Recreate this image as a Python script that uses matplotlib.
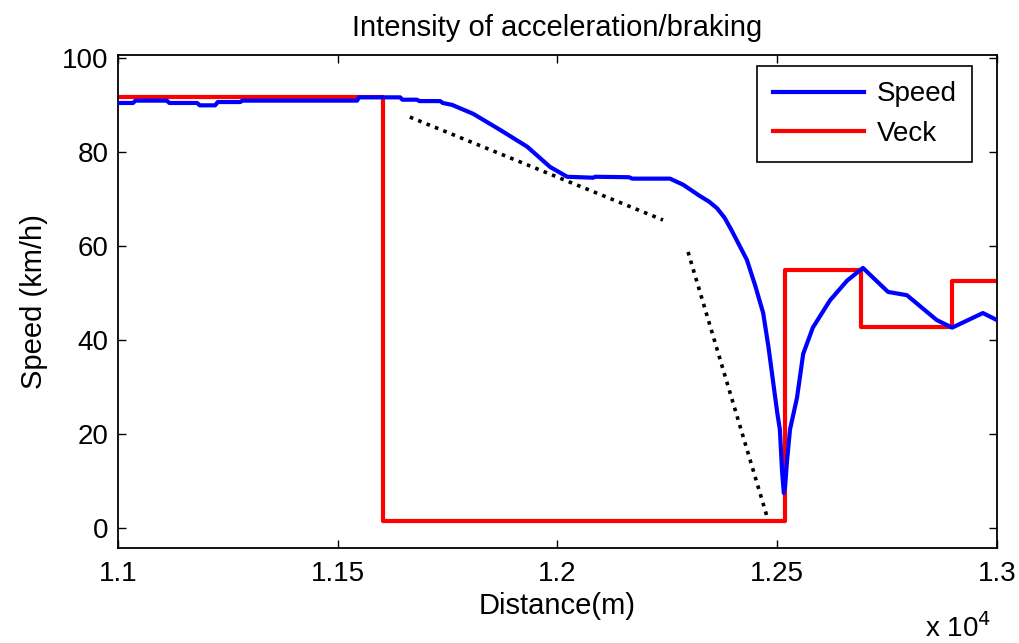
import matplotlib.pyplot as plt
from matplotlib.ticker import FuncFormatter

plt.rcParams['font.family'] = ['Liberation Sans', 'DejaVu Sans']

# measured vehicle speed along the route
dist = [11000, 11034, 11040, 11111, 11117, 11180, 11186, 11221, 11227, 11278, 11283,
        11544, 11548, 11642, 11647, 11680, 11686, 11733, 11739, 11760, 11808, 11869,
        11931, 11983, 12022, 12081, 12086, 12163, 12170, 12256, 12286, 12324, 12345,
        12363, 12380, 12395, 12410, 12431, 12450, 12468, 12480, 12490, 12500, 12506,
        12511, 12515, 12518, 12522, 12529, 12545, 12559, 12581, 12620, 12659, 12695,
        12752, 12795, 12863, 12898, 12968, 13000]
speed = [90.4, 90.4, 90.9, 90.9, 90.4, 90.4, 89.9, 89.9, 90.6, 90.6, 90.9,
         90.9, 91.6, 91.6, 91.1, 91.1, 90.8, 90.8, 90.4, 90.0, 88.1, 84.7,
         81.1, 76.8, 74.7, 74.5, 74.7, 74.6, 74.3, 74.3, 73.0, 70.6, 69.4,
         68.0, 66.0, 63.5, 60.8, 57.0, 51.5, 45.7, 38.5, 31.5, 24.5, 20.9,
         12.0, 7.4, 9.0, 14.0, 20.9, 27.7, 37.0, 42.6, 48.4, 52.6, 55.3,
         50.2, 49.5, 44.2, 42.6, 45.7, 44.2]

# reference speed (steps)
veck_dist = [11000, 11603, 11603, 12518, 12518, 12690, 12690, 12898, 12898, 13000]
veck_speed = [91.6, 91.6, 1.5, 1.5, 54.9, 54.9, 42.8, 42.8, 52.6, 52.6]

# slope guides
guide1_dist = [11664, 12240]
guide1_speed = [87.4, 65.5]
guide2_dist = [12297, 12477]
guide2_speed = [58.7, 2.3]

fig = plt.figure(figsize=(10.19, 6.43), dpi=100)
ax = fig.add_axes([0.1158, 0.1477, 0.8626, 0.7667])

ax.plot(dist, speed, color='#0000ff', lw=3, label='Speed', zorder=3)
ax.plot(veck_dist, veck_speed, color='#ff0000', lw=3, label='Veck', zorder=2)
ax.plot(guide1_dist, guide1_speed, color='black', lw=2.6, ls=(0, (1, 1.5)))
ax.plot(guide2_dist, guide2_speed, color='black', lw=2.6, ls=(0, (1, 1.5)))

ax.set_xlim(11000, 13000)
ax.set_ylim(-4.3, 100.6)
ax.set_xticks([11000, 11500, 12000, 12500, 13000])
ax.set_yticks([0, 20, 40, 60, 80, 100])
ax.xaxis.set_major_formatter(FuncFormatter(lambda v, p: ('%g' % (v / 1e4))))
ax.tick_params(direction='in', top=True, right=True, length=6, width=1,
               labelsize=20)
ax.tick_params(axis='x', pad=9)
ax.tick_params(axis='y', pad=7)
for s in ax.spines.values():
    s.set_linewidth(1.3)

ax.set_title('Intensity of acceleration/braking', fontsize=21, pad=14)
ax.set_xlabel('Distance(m)', fontsize=21, labelpad=4)
ax.set_ylabel('Speed (km/h)', fontsize=21, labelpad=10)
fig.text(925 / 1019, 0.009, r'x 10$^{4}$', fontsize=20, ha='left', va='baseline')

leg = ax.legend(loc='upper right', fontsize=20, fancybox=False, framealpha=1,
                edgecolor='black', handlelength=3.3, handletextpad=0.45,
                borderpad=0.55, labelspacing=0.5, borderaxespad=0,
                bbox_to_anchor=(0.9716, 0.9777))
leg.get_frame().set_linewidth(1.2)

fig.savefig('out.png', dpi=100)
